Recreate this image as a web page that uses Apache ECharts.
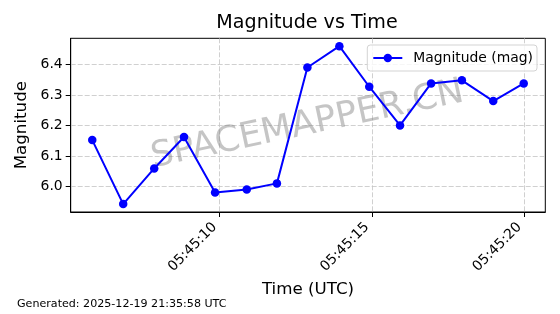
<!DOCTYPE html>
<html>
<head>
<meta charset="utf-8">
<script src="https://cdn.jsdelivr.net/npm/echarts@6/dist/echarts.min.js"></script>
<style>
html,body{margin:0;padding:0;background:#fff;}
#chart{width:560px;height:314px;}
</style>
</head>
<body>
<div id="chart"></div>
<script>
// ---- data ----
const dateStr = '2025-12-19';
const times = ['05:45:05.820','05:45:06.835','05:45:07.853','05:45:08.830','05:45:09.850',
               '05:45:10.890','05:45:11.880','05:45:12.880','05:45:13.930','05:45:14.910',
               '05:45:15.920','05:45:16.940','05:45:17.950','05:45:18.980','05:45:19.980'];
const magnitudes = [6.152, 5.942, 6.059, 6.162, 5.980, 5.990, 6.010, 6.390, 6.460, 6.327,
                    6.200, 6.338, 6.348, 6.280, 6.338];
const xTickTimes = ['05:45:10','05:45:15','05:45:20'];
const yTicks = [6.0, 6.1, 6.2, 6.3, 6.4];
const seriesName = 'Magnitude (mag)';
const titleText = 'Magnitude vs Time';
const xName = 'Time (UTC)';
const yName = 'Magnitude';
const footerText = 'Generated: 2025-12-19 21:35:58 UTC';
const watermarkText = 'SPACEMAPPER.CN';

const toTs = t => Date.parse(dateStr + 'T' + t + 'Z');
const seriesData = times.map((t, i) => [toTs(t), magnitudes[i]]);
const xTicks = xTickTimes.map(toTs);
const tsMin = toTs(times[0]), tsMax = toTs(times[times.length - 1]);
const xPad = (tsMax - tsMin) * 0.05;
const yMinD = Math.min(...magnitudes), yMaxD = Math.max(...magnitudes);
const yPad = (yMaxD - yMinD) * 0.05;
const pad2 = n => String(n).padStart(2, '0');
const fmtTime = v => { const d = new Date(Math.round(v)); return pad2(d.getUTCHours()) + ':' + pad2(d.getUTCMinutes()) + ':' + pad2(d.getUTCSeconds()); };

const FONT = 'DejaVu Sans';
const GRID_LINE = {show: true, lineStyle: {color: '#c4c4c4', width: 0.8, type: [5, 2]}};
const chart = echarts.init(document.getElementById('chart'), null, {renderer: 'canvas'});
chart.setOption({
  animation: false,
  backgroundColor: '#ffffff',
  textStyle: {fontFamily: FONT},
  grid: {
    left: 70.7, right: 14.7, top: 38.3, bottom: 102,
    show: true, borderColor: '#000', borderWidth: 1, backgroundColor: 'transparent',
    containLabel: false
  },
  legend: {
    right: 23, top: 45,
    padding: [6, 4, 6, 5],
    itemWidth: 29, itemHeight: 10.5,
    borderColor: '#d3d3d3', borderWidth: 1, borderRadius: 3,
    backgroundColor: 'rgba(255,255,255,0.8)',
    textStyle: {fontFamily: FONT, fontSize: 13.9, color: '#000', padding: [0, 0, 0, 6]},
    data: [seriesName]
  },
  xAxis: {
    type: 'value', scale: true,
    min: tsMin - xPad, max: tsMax + xPad,
    name: xName, nameLocation: 'middle', nameGap: 68,
    nameTextStyle: {fontFamily: FONT, fontSize: 16.7, color: '#000'},
    axisLine: {show: true, lineStyle: {color: '#000', width: 1}},
    axisTick: {show: true, length: 5, inside: false, lineStyle: {color: '#000'}, customValues: xTicks},
    axisLabel: {
      customValues: xTicks, rotate: 45, margin: 18,
      align: 'right', verticalAlign: 'bottom',
      fontFamily: FONT, fontSize: 13.9, color: '#000',
      formatter: v => fmtTime(v)
    },
    splitLine: GRID_LINE
  },
  yAxis: {
    type: 'value', scale: true,
    min: yMinD - yPad, max: yMaxD + yPad,
    name: yName, nameLocation: 'middle', nameGap: 32, nameRotate: 90,
    nameTextStyle: {fontFamily: FONT, fontSize: 16.7, color: '#000'},
    axisLine: {show: true, lineStyle: {color: '#000', width: 1}},
    axisTick: {show: true, length: 5, inside: false, lineStyle: {color: '#000'}, customValues: yTicks},
    axisLabel: {
      customValues: yTicks, margin: 8,
      fontFamily: FONT, fontSize: 13.9, color: '#000',
      formatter: v => Number(v).toFixed(1)
    },
    splitLine: GRID_LINE
  },
  graphic: [
    {
      type: 'text', x: 307, y: 23.5, z: 10,
      style: {
        text: titleText, fontFamily: FONT, fontSize: 19.1, fill: '#000',
        align: 'center', verticalAlign: 'middle'
      }
    },
    {
      type: 'text', x: 307.5, y: 125, rotation: 12 * Math.PI / 180, z: 1,
      style: {
        text: watermarkText, fontFamily: FONT, fontSize: 35.5,
        fill: 'rgba(128,128,128,0.46)', align: 'center', verticalAlign: 'middle'
      }
    },
    {
      type: 'text', left: 17, top: 299,
      style: {text: footerText, fontFamily: FONT, fontSize: 11.1, fill: '#000'}
    }
  ],
  series: [{
    name: seriesName,
    type: 'line',
    data: seriesData,
    symbol: 'circle', symbolSize: 8.5,
    lineStyle: {color: '#0000ff', width: 2},
    itemStyle: {color: '#0000ff'},
    z: 3
  }]
});
</script>
</body>
</html>
